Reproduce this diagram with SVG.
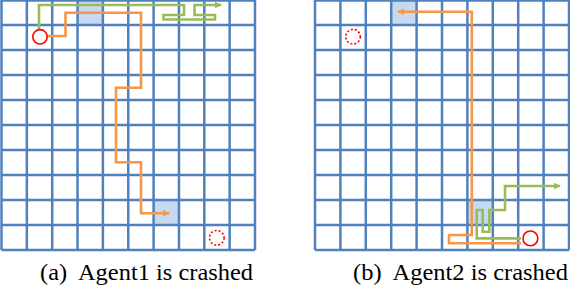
<svg xmlns="http://www.w3.org/2000/svg" width="570" height="288" viewBox="0 0 570 288">
<style>
.grid{fill:none;stroke:#4F81BD;stroke-width:2.5}
.cell{fill:#C6D9F1;stroke:none}
.or{fill:none;stroke:#F79646;stroke-width:2.6;stroke-linejoin:miter}
.gr{fill:none;stroke:#9BBB59;stroke-width:2.6;stroke-linejoin:miter}
.agent{fill:none;stroke:#FF0000;stroke-width:1.6}
.crash{fill:none;stroke:#FF0000;stroke-width:1.6;stroke-dasharray:2 2}
.cap{font-size:23.5px;fill:#000}
</style>
<defs>
<marker id="ao" markerWidth="8" markerHeight="8" refX="6" refY="4" orient="auto" markerUnits="userSpaceOnUse">
<path d="M0,0.8 L7,4 L0,7.2 z" fill="#F79646"/>
</marker>
<marker id="ag" markerWidth="8" markerHeight="8" refX="6" refY="4" orient="auto" markerUnits="userSpaceOnUse">
<path d="M0,0.8 L7,4 L0,7.2 z" fill="#9BBB59"/>
</marker>
</defs>
<g id="gridA">
<rect class="cell" x="77.55" y="0" width="25.35" height="25"/>
<rect class="cell" x="153.6" y="200" width="25.35" height="25"/>
<path class="grid" d="M1.5,0V250M26.85,0V250M52.2,0V250M77.55,0V250M102.9,0V250M128.25,0V250M153.6,0V250M178.95,0V250M204.3,0V250M229.65,0V250M255,0V250M1.5,0.5H255M1.5,25H255M1.5,50H255M1.5,75H255M1.5,100H255M1.5,125H255M1.5,150H255M1.5,175H255M1.5,200H255M1.5,225H255M1.5,250H255"/>
</g>
<g id="gridB">
<rect class="cell" x="391.2" y="0" width="25.4" height="25"/>
<rect class="cell" x="467.4" y="200" width="25.4" height="25"/>
<path class="grid" d="M315,0V250M340.4,0V250M365.8,0V250M391.2,0V250M416.6,0V250M442,0V250M467.4,0V250M492.8,0V250M518.2,0V250M543.6,0V250M569,0V250M315,0.5H569M315,25H569M315,50H569M315,75H569M315,100H569M315,125H569M315,150H569M315,175H569M315,200H569M315,225H569M315,250H569"/>
</g>
<g id="connectors">
<path class="or" d="M48,36 H65.5 V12.7 H141 V87.7 H116 V162.3 H141 V213.3 H169" marker-end="url(#ao)"/>
<path class="gr" d="M39,29 V5 H184 V15 H163.5 V19.5 H215 V15 H194.5 V5 H221" marker-end="url(#ag)"/>
<path class="or" d="M521,243.3 H449 V235 H471.8 V11.7 H398" marker-end="url(#ao)"/>
<path class="gr" d="M521,238.4 H476.7 V210 H482.7 V231.7 H489.3 V210 H505 V186 H560" marker-end="url(#ag)"/>
</g>
<g id="agent1A"><circle class="agent" cx="40" cy="36.8" r="7.2"/></g>
<g id="crashA"><circle class="crash" cx="216.8" cy="237.8" r="7.3"/></g>
<g id="crashB"><circle class="crash" cx="353" cy="36.7" r="7.3"/></g>
<g id="agent2B"><circle class="agent" cx="530.4" cy="238.4" r="7.4"/></g>
<g id="captions" font-family="'Liberation Serif', 'Times New Roman', serif">
<text class="cap" x="40" y="280" textLength="213" lengthAdjust="spacingAndGlyphs" xml:space="preserve">(a)  Agent1 is crashed</text>
<text class="cap" x="353" y="280" textLength="215" lengthAdjust="spacingAndGlyphs" xml:space="preserve">(b)  Agent2 is crashed</text>
</g>
</svg>
